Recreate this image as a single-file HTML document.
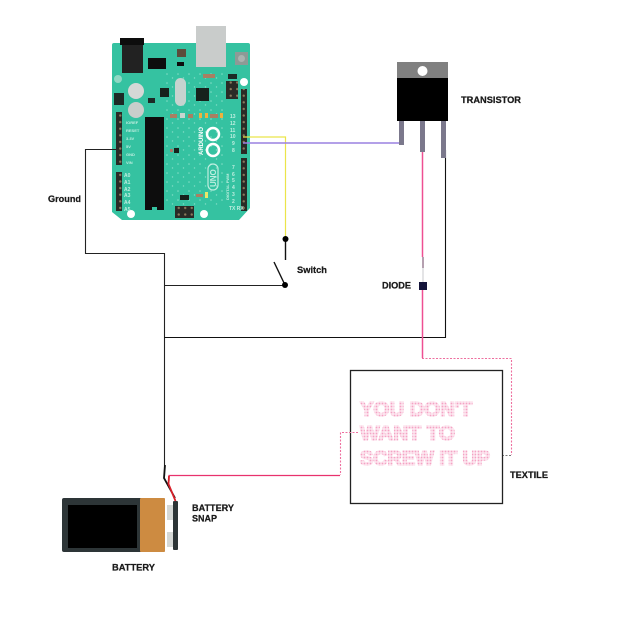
<!DOCTYPE html>
<html><head><meta charset="utf-8"><style>
html,body{margin:0;padding:0;background:#fff}
svg{display:block}
.l{font-family:"Liberation Sans",sans-serif;font-weight:bold;font-size:9.5px;fill:#1a1a1a;stroke:#1a1a1a;stroke-width:.25}
.t{font-family:"Liberation Sans",sans-serif;font-weight:bold;font-size:7px;fill:#bfeee0}
.d{font-family:"Liberation Sans",sans-serif;font-weight:bold;font-size:20px;fill:url(#dots);stroke:url(#dots);stroke-width:1.6}
</style></head><body>
<svg width="620" height="620" viewBox="0 0 620 620" xmlns="http://www.w3.org/2000/svg">
<defs>
<pattern id="dots" width="3" height="3" patternUnits="userSpaceOnUse"><rect width="3" height="3" fill="#fde6ef"/><circle cx="1.500" cy="1.500" r=".9" fill="#f4a3c4"/></pattern>
<pattern id="pad" width="6.500" height="6.600" patternUnits="userSpaceOnUse"><rect width="6.500" height="6.600" fill="#2b2a26"/><circle cx="3.250" cy="3.300" r="1.200" fill="#8a7a5c"/></pattern>
<pattern id="speck" width="11" height="9" patternUnits="userSpaceOnUse"><circle cx="2" cy="2" r=".8" fill="#7fdcc4"/><circle cx="7.500" cy="6" r=".7" fill="#7fdcc4"/></pattern>
<filter id="soft" x="-5%" y="-5%" width="110%" height="110%"><feGaussianBlur stdDeviation="0.35"/></filter>
</defs>
<rect width="620" height="620" fill="#fff"/>

<g filter="url(#soft)">
<!-- board -->
<path d="M114 43H248Q250 43 250 45V208L239 220H122L112 212V45Q112 43 114 43Z" fill="#36c2a1"/>
<path d="M166 70H226V205H166Z" fill="url(#speck)"/>
<rect x="196" y="26" width="30" height="41" fill="#c9cccb"/>
<rect x="120" y="38" width="24" height="7" fill="#111"/>
<rect x="122" y="45" width="21" height="28" fill="#222"/>
<rect x="148" y="58" width="18" height="11" fill="#0f0f0f"/>
<rect x="177" y="49" width="9" height="8" fill="#5b4d3a"/>
<rect x="177" y="62" width="7" height="4" fill="#111"/>
<rect x="235" y="52" width="13" height="13" fill="#8d9a96"/>
<circle cx="241.500" cy="58.500" r="3.500" fill="#aab3b0"/>
<circle cx="244" cy="82" r="4" fill="#fff"/>
<circle cx="131" cy="214" r="4" fill="#fff"/>
<circle cx="204" cy="214" r="4" fill="#fff"/>
<circle cx="118" cy="79" r="4" fill="#8fd8c4"/>
<circle cx="136" cy="91" r="8" fill="#d5d8d6"/>
<circle cx="136" cy="110" r="8" fill="#c9cecb"/>
<rect x="114" y="93" width="10" height="12" fill="#1c2a28"/>
<rect x="148" y="98" width="7" height="5" fill="#1c2a28"/>
<rect x="160" y="88" width="9" height="9" fill="#15201f"/>
<rect x="196" y="88" width="13" height="13" fill="#15201f"/>
<rect x="175" y="78" width="11" height="28" rx="5.500" fill="#c6d3cf"/>
<rect x="226" y="81" width="12" height="18" fill="url(#pad)"/>
<rect x="175" y="206" width="19" height="12" fill="url(#pad)"/>
<rect x="228" y="74" width="9" height="5" fill="#1c2a28"/>
<path d="M145 117H164V210H157V207H152V210H145Z" fill="#111"/>
<rect x="241" y="89" width="6" height="65" fill="url(#pad)"/>
<rect x="241" y="158" width="6" height="53" fill="url(#pad)"/>
<rect x="116" y="112" width="6" height="53" fill="url(#pad)"/>
<rect x="116" y="172" width="6" height="39" fill="url(#pad)"/>
<!-- small parts -->
<rect x="170" y="114" width="7" height="4" fill="#a97f62"/>
<rect x="180" y="113" width="5" height="5" fill="#c9d5cf"/>
<rect x="188" y="114" width="5" height="4" fill="#a97f62"/>
<rect x="199" y="113" width="3" height="5" fill="#efb23c"/>
<rect x="205" y="113" width="3" height="5" fill="#efb23c"/>
<rect x="210" y="114" width="8" height="4" fill="#a97f62"/>
<rect x="220" y="113" width="3" height="5" fill="#efb23c"/>
<rect x="203" y="74" width="12" height="4" fill="#a97f62"/>
<rect x="196" y="194" width="7" height="3" fill="#a97f62"/>
<rect x="205" y="192" width="3" height="6" fill="#e8e86a"/>
<rect x="180" y="195" width="9" height="5" fill="#15201f"/>
<rect x="174" y="148" width="5" height="5" fill="#15201f"/>
<rect x="170" y="149" width="3" height="3" fill="#a9786a"/>
<!-- logo -->
<circle cx="213" cy="134" r="6" fill="none" stroke="#fff" stroke-width="2.500"/>
<circle cx="213" cy="150" r="6" fill="none" stroke="#fff" stroke-width="2.500"/>
<rect x="208" y="164" width="10" height="26" rx="5" fill="none" stroke="#bfeee0" stroke-width="1.200"/>
<text class="t" transform="translate(203,155) rotate(-90)" style="font-size:6px;fill:#fff">ARDUINO</text>
<text class="t" transform="translate(216,187) rotate(-90)" style="font-size:8px">UNO</text>
<text class="t" transform="translate(229,200) rotate(-90)" style="font-size:4px">DIGITAL PWM</text>
<text class="t" x="126" y="124" style="font-size:4px">IOREF</text>
<text class="t" x="126" y="132" style="font-size:4px">RESET</text>
<text class="t" x="126" y="140" style="font-size:4px">3.3V</text>
<text class="t" x="126" y="148" style="font-size:4px">5V</text>
<text class="t" x="126" y="156" style="font-size:4px">GND</text>
<text class="t" x="126" y="164" style="font-size:4px">VIN</text>
<text class="t" x="124" y="177" style="font-size:5px">A0</text>
<text class="t" x="124" y="184" style="font-size:5px">A1</text>
<text class="t" x="124" y="191" style="font-size:5px">A2</text>
<text class="t" x="124" y="197" style="font-size:5px">A3</text>
<text class="t" x="124" y="204" style="font-size:5px">A4</text>
<text class="t" x="124" y="211" style="font-size:5px">A5</text>
<text class="t" x="230" y="118" style="font-size:5px">13</text>
<text class="t" x="230" y="125" style="font-size:5px">12</text>
<text class="t" x="230" y="132" style="font-size:5px">11</text>
<text class="t" x="230" y="138" style="font-size:5px">10</text>
<text class="t" x="232" y="145" style="font-size:5px">9</text>
<text class="t" x="232" y="152" style="font-size:5px">8</text>
<text class="t" x="232" y="169" style="font-size:5px">7</text>
<text class="t" x="232" y="176" style="font-size:5px">6</text>
<text class="t" x="232" y="182" style="font-size:5px">5</text>
<text class="t" x="232" y="189" style="font-size:5px">4</text>
<text class="t" x="232" y="196" style="font-size:5px">3</text>
<text class="t" x="232" y="203" style="font-size:5px">2</text>
<text class="t" x="229" y="210" style="font-size:5px">TX RX</text>
</g>

<!-- wires -->
<path d="M243 137H285.500V238" fill="none" stroke="#ebe54a" stroke-width="1.200"/>
<path d="M243 143H401" fill="none" stroke="#9a80e0" stroke-width="1.500"/>
<path d="M116 149.500H85.500V253.500H164.500V476" fill="none" stroke="#222" stroke-width="1.100"/>
<path d="M164 285.500H285" fill="none" stroke="#222" stroke-width="1.100"/>
<path d="M285.500 239V260" stroke="#111" stroke-width="1.400"/>
<path d="M274 262L285 285" stroke="#111" stroke-width="1.400"/>
<circle cx="285.500" cy="239" r="3" fill="#000"/>
<circle cx="285" cy="285" r="3" fill="#000"/>
<path d="M445.500 150V337.500H164" fill="none" stroke="#111" stroke-width="1.100"/>

<!-- transistor -->
<rect x="397" y="62" width="51" height="16" fill="#808080"/>
<rect x="397" y="78" width="51" height="43" fill="#000"/>
<circle cx="422.500" cy="71" r="5" fill="#fff"/>
<rect x="399" y="121" width="5" height="24" fill="#7b788c"/>
<rect x="420" y="121" width="5" height="31" fill="#7b788c"/>
<rect x="441" y="121" width="5" height="37" fill="#7b788c"/>
<path d="M422.500 152V257" stroke="#ee4f92" stroke-width="1.500"/>
<path d="M423 257V268" stroke="#6b4060" stroke-width="1"/>
<path d="M423 268V282" stroke="#c8c8cc" stroke-width="1"/>
<rect x="419" y="282" width="8" height="8" fill="#14143a"/>
<path d="M422.500 290V358" stroke="#ee4f92" stroke-width="1.500"/>
<path d="M422 358.500H511.500V455" fill="none" stroke="#ee6f9f" stroke-width="1.100" stroke-dasharray="2 1.500"/>
<path d="M511 455.500H490" fill="none" stroke="#777" stroke-width="1.100" stroke-dasharray="2 1.500"/>

<!-- textile -->
<rect x="350.500" y="370.500" width="152" height="133" fill="#fff" stroke="#222" stroke-width="1.300"/>
<path d="M358 432.500H340.500V475" fill="none" stroke="#ee6f9f" stroke-width="1.100" stroke-dasharray="2 1.500"/>
<path d="M340 475.500H169V481" fill="none" stroke="#e8326e" stroke-width="1.200"/>
<text class="d" x="360" y="416" textLength="112" lengthAdjust="spacingAndGlyphs">YOU DON'T</text>
<text class="d" x="360" y="440" textLength="95" lengthAdjust="spacingAndGlyphs">WANT TO</text>
<text class="d" x="360" y="465" textLength="130" lengthAdjust="spacingAndGlyphs">SCREW IT UP</text>

<!-- battery -->
<rect x="62" y="498" width="103" height="54" rx="2" fill="#2d3537"/>
<rect x="68" y="505" width="69" height="43" fill="#000"/>
<rect x="140" y="498" width="25" height="54" rx="1" fill="#cd8b41"/>
<rect x="167" y="505" width="6" height="15" fill="#d5d8d6"/>
<rect x="167" y="532" width="6" height="15" fill="#d5d8d6"/>
<rect x="173" y="501" width="5" height="49" rx="1" fill="#2d3537"/>
<path d="M165 465L164 478L175 498" fill="none" stroke="#111" stroke-width="1.800"/>
<path d="M169 476L168.500 484L175.500 501" fill="none" stroke="#d8202a" stroke-width="1.800"/>

<!-- labels -->
<text class="l" x="461" y="103" textLength="60" lengthAdjust="spacingAndGlyphs">TRANSISTOR</text>
<text class="l" x="48" y="202" textLength="33" lengthAdjust="spacingAndGlyphs">Ground</text>
<text class="l" x="297" y="273" textLength="30" lengthAdjust="spacingAndGlyphs">Switch</text>
<text class="l" x="382" y="288.500" textLength="29" lengthAdjust="spacingAndGlyphs">DIODE</text>
<text class="l" x="510" y="478" textLength="38" lengthAdjust="spacingAndGlyphs">TEXTILE</text>
<text class="l" x="192" y="511" textLength="42" lengthAdjust="spacingAndGlyphs">BATTERY</text>
<text class="l" x="192" y="521.500" textLength="25" lengthAdjust="spacingAndGlyphs">SNAP</text>
<text class="l" x="112" y="570.500" textLength="43" lengthAdjust="spacingAndGlyphs">BATTERY</text>
</svg>
</body></html>
